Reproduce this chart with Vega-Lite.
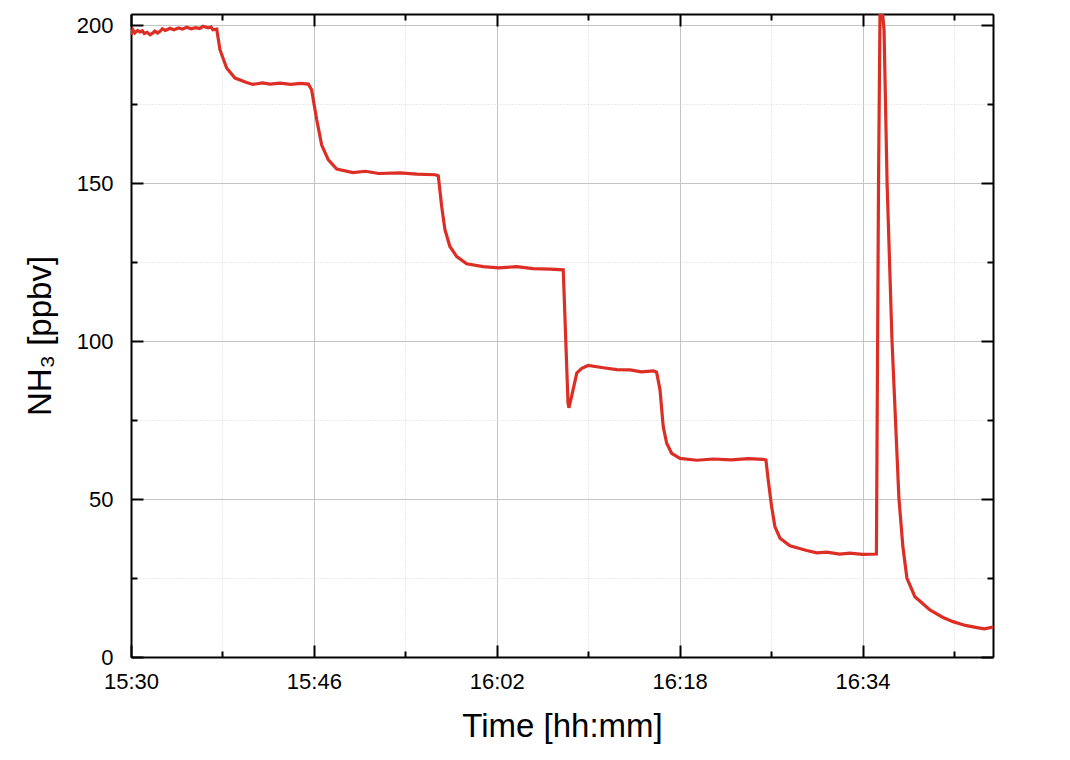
{
  "$schema": "https://vega.github.io/schema/vega-lite/v6.json",
  "width": 862,
  "height": 643,
  "autosize": "none",
  "padding": {"left": 131, "top": 14, "right": 77, "bottom": 103},
  "background": "white",
  "config": {
    "view": {"stroke": null},
    "font": "Liberation Sans",
    "axis": {
      "labelFont": "Liberation Sans",
      "titleFont": "Liberation Sans",
      "labelColor": "black",
      "titleColor": "black",
      "labelFontSize": 22,
      "titleFontSize": 33,
      "titleFontWeight": "normal",
      "domainColor": "black",
      "domainWidth": 2,
      "tickColor": "black",
      "tickWidth": 2,
      "labelOverlap": false,
      "labelFlush": false
    }
  },
  "data": {
    "values": [
      {"time": "2021-01-01T15:30:00Z", "nh3": 197.0},
      {"time": "2021-01-01T15:30:10Z", "nh3": 198.6},
      {"time": "2021-01-01T15:30:20Z", "nh3": 197.6},
      {"time": "2021-01-01T15:30:35Z", "nh3": 198.4},
      {"time": "2021-01-01T15:30:47Z", "nh3": 197.9},
      {"time": "2021-01-01T15:31:00Z", "nh3": 198.3},
      {"time": "2021-01-01T15:31:10Z", "nh3": 197.4},
      {"time": "2021-01-01T15:31:25Z", "nh3": 197.8},
      {"time": "2021-01-01T15:31:40Z", "nh3": 197.0},
      {"time": "2021-01-01T15:31:55Z", "nh3": 197.6},
      {"time": "2021-01-01T15:32:05Z", "nh3": 198.2},
      {"time": "2021-01-01T15:32:20Z", "nh3": 197.6},
      {"time": "2021-01-01T15:32:32Z", "nh3": 198.1},
      {"time": "2021-01-01T15:32:45Z", "nh3": 198.9},
      {"time": "2021-01-01T15:33:00Z", "nh3": 198.4},
      {"time": "2021-01-01T15:33:25Z", "nh3": 199.1},
      {"time": "2021-01-01T15:33:45Z", "nh3": 198.6},
      {"time": "2021-01-01T15:34:10Z", "nh3": 199.2},
      {"time": "2021-01-01T15:34:30Z", "nh3": 198.8},
      {"time": "2021-01-01T15:34:52Z", "nh3": 199.4},
      {"time": "2021-01-01T15:35:15Z", "nh3": 198.9},
      {"time": "2021-01-01T15:35:40Z", "nh3": 199.3},
      {"time": "2021-01-01T15:36:00Z", "nh3": 199.0},
      {"time": "2021-01-01T15:36:18Z", "nh3": 199.7},
      {"time": "2021-01-01T15:36:45Z", "nh3": 199.2},
      {"time": "2021-01-01T15:37:00Z", "nh3": 199.5},
      {"time": "2021-01-01T15:37:10Z", "nh3": 198.6},
      {"time": "2021-01-01T15:37:30Z", "nh3": 198.8},
      {"time": "2021-01-01T15:37:47Z", "nh3": 192.3},
      {"time": "2021-01-01T15:38:22Z", "nh3": 186.5},
      {"time": "2021-01-01T15:39:06Z", "nh3": 183.3},
      {"time": "2021-01-01T15:40:07Z", "nh3": 181.9},
      {"time": "2021-01-01T15:40:40Z", "nh3": 181.3},
      {"time": "2021-01-01T15:41:30Z", "nh3": 181.8},
      {"time": "2021-01-01T15:42:10Z", "nh3": 181.4},
      {"time": "2021-01-01T15:43:02Z", "nh3": 181.7},
      {"time": "2021-01-01T15:44:00Z", "nh3": 181.3},
      {"time": "2021-01-01T15:44:50Z", "nh3": 181.6},
      {"time": "2021-01-01T15:45:31Z", "nh3": 181.4},
      {"time": "2021-01-01T15:45:48Z", "nh3": 179.6},
      {"time": "2021-01-01T15:46:15Z", "nh3": 170.1},
      {"time": "2021-01-01T15:46:41Z", "nh3": 162.1},
      {"time": "2021-01-01T15:47:16Z", "nh3": 157.4},
      {"time": "2021-01-01T15:48:00Z", "nh3": 154.5},
      {"time": "2021-01-01T15:49:25Z", "nh3": 153.4},
      {"time": "2021-01-01T15:50:30Z", "nh3": 153.8},
      {"time": "2021-01-01T15:51:40Z", "nh3": 153.1},
      {"time": "2021-01-01T15:53:32Z", "nh3": 153.3},
      {"time": "2021-01-01T15:55:00Z", "nh3": 152.9},
      {"time": "2021-01-01T15:56:36Z", "nh3": 152.7},
      {"time": "2021-01-01T15:56:53Z", "nh3": 152.4},
      {"time": "2021-01-01T15:57:11Z", "nh3": 142.6},
      {"time": "2021-01-01T15:57:28Z", "nh3": 135.3},
      {"time": "2021-01-01T15:57:54Z", "nh3": 130.0},
      {"time": "2021-01-01T15:58:30Z", "nh3": 126.8},
      {"time": "2021-01-01T15:59:22Z", "nh3": 124.5},
      {"time": "2021-01-01T16:00:48Z", "nh3": 123.6},
      {"time": "2021-01-01T16:02:10Z", "nh3": 123.2},
      {"time": "2021-01-01T16:03:45Z", "nh3": 123.6},
      {"time": "2021-01-01T16:05:10Z", "nh3": 123.0},
      {"time": "2021-01-01T16:06:40Z", "nh3": 122.8},
      {"time": "2021-01-01T16:07:49Z", "nh3": 122.6},
      {"time": "2021-01-01T16:08:14Z", "nh3": 80.5},
      {"time": "2021-01-01T16:08:19Z", "nh3": 78.9},
      {"time": "2021-01-01T16:08:33Z", "nh3": 82.5},
      {"time": "2021-01-01T16:09:00Z", "nh3": 89.9},
      {"time": "2021-01-01T16:09:26Z", "nh3": 91.4},
      {"time": "2021-01-01T16:10:00Z", "nh3": 92.3},
      {"time": "2021-01-01T16:11:19Z", "nh3": 91.6},
      {"time": "2021-01-01T16:12:30Z", "nh3": 91.0},
      {"time": "2021-01-01T16:13:39Z", "nh3": 90.9},
      {"time": "2021-01-01T16:14:40Z", "nh3": 90.3},
      {"time": "2021-01-01T16:15:42Z", "nh3": 90.6},
      {"time": "2021-01-01T16:15:59Z", "nh3": 90.2},
      {"time": "2021-01-01T16:16:17Z", "nh3": 84.6},
      {"time": "2021-01-01T16:16:34Z", "nh3": 72.9},
      {"time": "2021-01-01T16:16:52Z", "nh3": 67.7},
      {"time": "2021-01-01T16:17:18Z", "nh3": 64.5},
      {"time": "2021-01-01T16:18:02Z", "nh3": 62.9},
      {"time": "2021-01-01T16:19:30Z", "nh3": 62.3},
      {"time": "2021-01-01T16:20:57Z", "nh3": 62.7},
      {"time": "2021-01-01T16:22:30Z", "nh3": 62.4},
      {"time": "2021-01-01T16:24:00Z", "nh3": 62.8},
      {"time": "2021-01-01T16:25:19Z", "nh3": 62.6},
      {"time": "2021-01-01T16:25:33Z", "nh3": 62.4},
      {"time": "2021-01-01T16:25:45Z", "nh3": 56.1},
      {"time": "2021-01-01T16:26:03Z", "nh3": 47.6},
      {"time": "2021-01-01T16:26:20Z", "nh3": 41.3},
      {"time": "2021-01-01T16:26:47Z", "nh3": 37.6},
      {"time": "2021-01-01T16:27:39Z", "nh3": 35.2},
      {"time": "2021-01-01T16:29:07Z", "nh3": 33.7},
      {"time": "2021-01-01T16:30:00Z", "nh3": 33.0},
      {"time": "2021-01-01T16:30:52Z", "nh3": 33.2},
      {"time": "2021-01-01T16:32:00Z", "nh3": 32.6},
      {"time": "2021-01-01T16:32:54Z", "nh3": 32.9},
      {"time": "2021-01-01T16:34:00Z", "nh3": 32.5},
      {"time": "2021-01-01T16:35:13Z", "nh3": 32.6},
      {"time": "2021-01-01T16:35:24Z", "nh3": 150.0},
      {"time": "2021-01-01T16:35:32Z", "nh3": 205.0},
      {"time": "2021-01-01T16:35:42Z", "nh3": 206.0},
      {"time": "2021-01-01T16:35:53Z", "nh3": 198.6},
      {"time": "2021-01-01T16:36:09Z", "nh3": 150.1},
      {"time": "2021-01-01T16:36:35Z", "nh3": 100.0},
      {"time": "2021-01-01T16:37:11Z", "nh3": 50.4},
      {"time": "2021-01-01T16:37:32Z", "nh3": 34.9},
      {"time": "2021-01-01T16:37:53Z", "nh3": 25.0},
      {"time": "2021-01-01T16:38:35Z", "nh3": 19.1},
      {"time": "2021-01-01T16:39:54Z", "nh3": 14.9},
      {"time": "2021-01-01T16:41:00Z", "nh3": 12.6},
      {"time": "2021-01-01T16:41:55Z", "nh3": 11.2},
      {"time": "2021-01-01T16:43:00Z", "nh3": 10.0},
      {"time": "2021-01-01T16:44:01Z", "nh3": 9.3},
      {"time": "2021-01-01T16:44:40Z", "nh3": 8.9},
      {"time": "2021-01-01T16:45:25Z", "nh3": 9.5}
    ]
  },
  "encoding": {
    "x": {
      "field": "time",
      "type": "temporal",
      "scale": {
        "type": "utc",
        "domain": [
          {"year": 2021, "month": 1, "date": 1, "hours": 15, "minutes": 30, "seconds": 0, "utc": true},
          {"year": 2021, "month": 1, "date": 1, "hours": 16, "minutes": 45, "seconds": 25, "utc": true}
        ]
      }
    },
    "y": {
      "field": "nh3",
      "type": "quantitative",
      "scale": {"domain": [0, 203.6], "nice": false, "zero": false}
    }
  },
  "layer": [
    {
      "mark": {"type": "line", "color": "#dd2e26", "strokeWidth": 3.2, "clip": true},
      "encoding": {
        "x": {
          "field": "time",
          "type": "temporal",
          "axis": {
            "orient": "bottom",
            "title": "Time [hh:mm]",
            "titlePadding": 12,
            "values": [
              {"year": 2021, "month": 1, "date": 1, "hours": 15, "minutes": 30, "utc": true},
              {"year": 2021, "month": 1, "date": 1, "hours": 15, "minutes": 38, "utc": true},
              {"year": 2021, "month": 1, "date": 1, "hours": 15, "minutes": 46, "utc": true},
              {"year": 2021, "month": 1, "date": 1, "hours": 15, "minutes": 54, "utc": true},
              {"year": 2021, "month": 1, "date": 1, "hours": 16, "minutes": 2, "utc": true},
              {"year": 2021, "month": 1, "date": 1, "hours": 16, "minutes": 10, "utc": true},
              {"year": 2021, "month": 1, "date": 1, "hours": 16, "minutes": 18, "utc": true},
              {"year": 2021, "month": 1, "date": 1, "hours": 16, "minutes": 26, "utc": true},
              {"year": 2021, "month": 1, "date": 1, "hours": 16, "minutes": 34, "utc": true},
              {"year": 2021, "month": 1, "date": 1, "hours": 16, "minutes": 42, "utc": true}
            ],
            "labelExpr": "(utchours(datum.value)*60 + utcminutes(datum.value) - 930) % 16 === 0 ? utcFormat(datum.value, '%H:%M') : ''",
            "labelPadding": 26,
            "tickSize": {"condition": {"test": "(utchours(datum.value)*60 + utcminutes(datum.value) - 930) % 16 === 0", "value": -12}, "value": -6},
            "grid": true,
            "gridColor": {"condition": {"test": "(utchours(datum.value)*60 + utcminutes(datum.value) - 930) % 16 === 0", "value": "#c4c4c4"}, "value": "#d6d6d6"},
            "gridDash": {"condition": {"test": "(utchours(datum.value)*60 + utcminutes(datum.value) - 930) % 16 === 0", "value": []}, "value": [1, 2]},
            "gridWidth": 1
          }
        },
        "y": {
          "field": "nh3",
          "type": "quantitative",
          "axis": {
            "orient": "left",
            "title": "NH₃ [ppbv]",
            "titlePadding": 19,
            "values": [0, 25, 50, 75, 100, 125, 150, 175, 200],
            "labelExpr": "datum.value % 50 === 0 ? datum.label : ''",
            "labelPadding": 30,
            "tickSize": {"condition": {"test": "datum.value % 50 === 0", "value": -12}, "value": -6},
            "grid": true,
            "gridColor": {"condition": {"test": "datum.value % 50 === 0", "value": "#c4c4c4"}, "value": "#d6d6d6"},
            "gridDash": {"condition": {"test": "datum.value % 50 === 0", "value": []}, "value": [1, 2]},
            "gridWidth": 1
          }
        }
      }
    },
    {
      "mark": {"type": "line", "strokeOpacity": 0, "clip": true},
      "encoding": {
        "x": {
          "field": "time",
          "type": "temporal",
          "axis": {
            "orient": "top",
            "title": null,
            "labels": false,
            "grid": false,
            "values": [
              {"year": 2021, "month": 1, "date": 1, "hours": 15, "minutes": 30, "utc": true},
              {"year": 2021, "month": 1, "date": 1, "hours": 15, "minutes": 38, "utc": true},
              {"year": 2021, "month": 1, "date": 1, "hours": 15, "minutes": 46, "utc": true},
              {"year": 2021, "month": 1, "date": 1, "hours": 15, "minutes": 54, "utc": true},
              {"year": 2021, "month": 1, "date": 1, "hours": 16, "minutes": 2, "utc": true},
              {"year": 2021, "month": 1, "date": 1, "hours": 16, "minutes": 10, "utc": true},
              {"year": 2021, "month": 1, "date": 1, "hours": 16, "minutes": 18, "utc": true},
              {"year": 2021, "month": 1, "date": 1, "hours": 16, "minutes": 26, "utc": true},
              {"year": 2021, "month": 1, "date": 1, "hours": 16, "minutes": 34, "utc": true},
              {"year": 2021, "month": 1, "date": 1, "hours": 16, "minutes": 42, "utc": true}
            ],
            "tickSize": {"condition": {"test": "(utchours(datum.value)*60 + utcminutes(datum.value) - 930) % 16 === 0", "value": -12}, "value": -6}
          }
        },
        "y": {
          "field": "nh3",
          "type": "quantitative",
          "axis": {
            "orient": "right",
            "title": null,
            "labels": false,
            "grid": false,
            "values": [0, 25, 50, 75, 100, 125, 150, 175, 200],
            "tickSize": {"condition": {"test": "datum.value % 50 === 0", "value": -12}, "value": -6}
          }
        }
      }
    }
  ],
  "resolve": {"axis": {"x": "independent", "y": "independent"}}
}
